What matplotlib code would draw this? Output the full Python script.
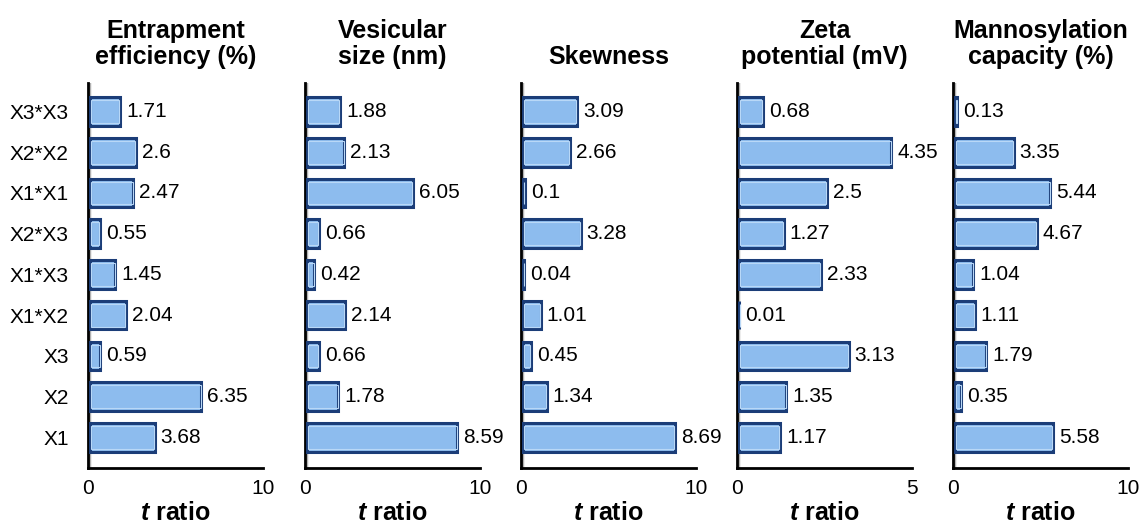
import matplotlib.pyplot as plt
from matplotlib.transforms import offset_copy

plt.rcParams["font.family"] = ["Liberation Sans", "DejaVu Sans"]
plt.rcParams["mathtext.fontset"] = "custom"
plt.rcParams["mathtext.bfit"] = "Liberation Sans:italic:bold"
plt.rcParams["mathtext.rm"] = "Liberation Sans"

terms = ["X3*X3", "X2*X2", "X1*X1", "X2*X3", "X1*X3", "X1*X2", "X3", "X2", "X1"]

titles = [
    "Entrapment\nefficiency (%)",
    "Vesicular\nsize (nm)",
    "Skewness",
    "Zeta\npotential (mV)",
    "Mannosylation\ncapacity (%)",
]
entrapment = [1.71, 2.6, 2.47, 0.55, 1.45, 2.04, 0.59, 6.35, 3.68]
vesicular = [1.88, 2.13, 6.05, 0.66, 0.42, 2.14, 0.66, 1.78, 8.59]
skewness = [3.09, 2.66, 0.1, 3.28, 0.04, 1.01, 0.45, 1.34, 8.69]
zeta = [0.68, 4.35, 2.5, 1.27, 2.33, 0.01, 3.13, 1.35, 1.17]
mannosylation = [0.13, 3.35, 5.44, 4.67, 1.04, 1.11, 1.79, 0.35, 5.58]
xmax = [10, 10, 10, 5, 10]

series = [entrapment, vesicular, skewness, zeta, mannosylation]

fig = plt.figure(figsize=(11.42, 5.24), dpi=100)
lefts = [88, 305, 521, 737, 953]
W, H = 1142, 524

for i, (vals, title, xm) in enumerate(zip(series, titles, xmax)):
    ax = fig.add_axes([lefts[i] / W, 1 - 468 / H, 175 / W, 385 / H])
    ypos = list(range(len(terms)))[::-1]
    ax.barh(ypos, vals, height=0.70, left=xm * 0.012, color="#8dbcee",
            edgecolor="#1b3d78", linewidth=2.2, zorder=3)
    # thin inner highlight
    ax.barh(ypos, [max(v - xm * 0.008, 0) for v in vals], height=0.56,
            left=xm * 0.016, color="none", edgecolor="#b9d8f7",
            linewidth=0.8, zorder=4)
    trans = offset_copy(ax.transData, fig=fig, x=6, y=0, units="dots")
    for y, v in zip(ypos, vals):
        ax.text(v + xm * 0.012, y, f"{v:g}", transform=trans, va="center",
                ha="left", fontsize=15)
    ax.axvline(xm * 0.006, color="#b0b0b0", linewidth=2.5, zorder=2)
    ax.set_xlim(0, xm)
    ax.set_ylim(-0.75, 8.7)
    ax.set_xticks([0, xm])
    ax.tick_params(axis="x", length=0, labelsize=15, pad=8)
    ax.tick_params(axis="y", length=0, labelsize=15, pad=14)
    if i == 0:
        ax.set_yticks(ypos)
        ax.set_yticklabels(terms)
    else:
        ax.set_yticks([])
    for s in ["top", "right"]:
        ax.spines[s].set_visible(False)
    for s in ["left", "bottom"]:
        ax.spines[s].set_linewidth(2)
    ax.set_title(title, fontsize=18, fontweight="bold", pad=14, linespacing=1.1)
    ax.set_xlabel(r"$\mathbfit{t}$ ratio", fontsize=18, fontweight="bold", labelpad=2)

fig.savefig("out.png", dpi=100)
